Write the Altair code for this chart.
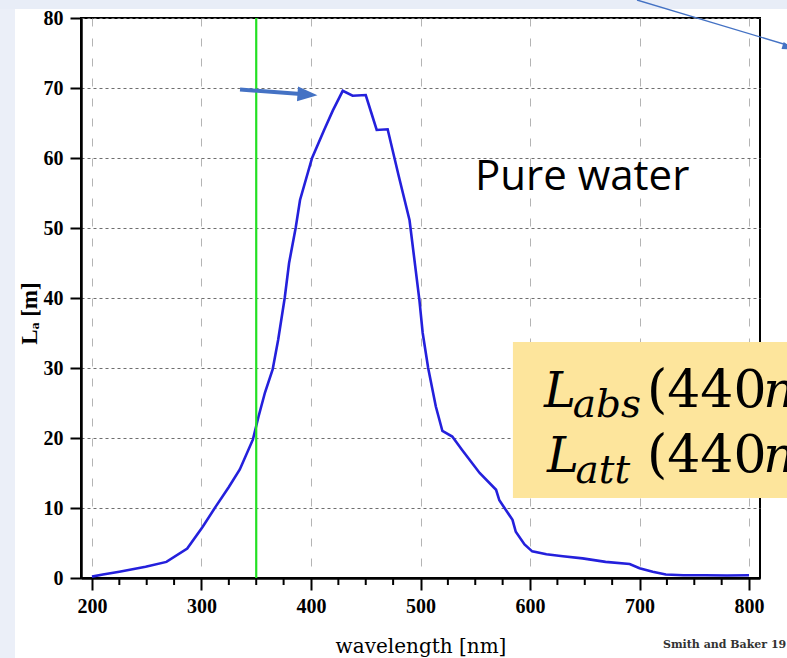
import altair as alt
import pandas as pd

# ---- data ----
wavelength = [200, 210, 225, 249, 268, 287, 301, 313, 325, 335, 347, 352, 358, 365,
              370, 376, 380, 386, 390, 401, 412, 420, 429, 438, 450, 455, 460, 470,
              480, 490, 499, 502, 507, 514, 520, 529, 538, 554, 569, 572, 584, 587,
              595, 602, 615, 630, 648, 669, 691, 700, 712, 724, 740, 760, 780, 800]
L_values = [0.2, 0.5, 0.9, 1.6, 2.3, 4.2, 7.3, 10.2, 13.0, 15.5, 19.8, 23.0, 26.5, 29.8,
            34.0, 40.0, 45.0, 50.0, 54.0, 60.0, 64.0, 66.8, 69.6, 68.9, 69.0, 66.5, 64.0, 64.1,
            57.5, 51.1, 39.7, 35.0, 30.0, 24.5, 21.0, 20.2, 18.3, 15.0, 12.6, 11.1, 8.3, 6.6,
            4.8, 3.8, 3.4, 3.1, 2.8, 2.3, 2.0, 1.4, 0.9, 0.5, 0.4, 0.4, 0.35, 0.4]

x_ticks = [200, 300, 400, 500, 600, 700, 800]
x_minor_ticks = [225, 250, 275, 325, 350, 375, 425, 450, 475, 525, 550, 575,
                 625, 650, 675, 725, 750, 775]
y_ticks = [0, 10, 20, 30, 40, 50, 60, 70, 80]
marker_wavelength = [350]

W, H = 679, 560
PAD = {"left": 81, "top": 18, "right": 27, "bottom": 80}

x_scale = alt.Scale(domain=[190, 810], nice=False, zero=False)
y_scale = alt.Scale(domain=[0, 80], nice=False, zero=False)

x_axis = alt.Axis(values=x_ticks, title="wavelength [nm]", format="d",
                  tickSize=12, tickWidth=2, tickColor="black",
                  domainColor="black", domainWidth=2.5,
                  labelFont="Liberation Serif", labelFontWeight="bold",
                  labelFontSize=20, labelColor="black", labelPadding=6,
                  grid=True, gridColor="#b4b4b4", gridDash=[8, 12], gridWidth=1,
                  titleFont="DejaVu Serif", titleFontSize=20,
                  titleFontWeight="normal", titleColor="black",
                  titlePadding=20)
y_axis = alt.Axis(values=y_ticks, title="Lₐ [m]", format="d",
                  tickSize=11, tickWidth=2, tickColor="black",
                  domainColor="black", domainWidth=2.5,
                  labelFont="Liberation Serif", labelFontWeight="bold",
                  labelFontSize=20, labelColor="black", labelPadding=7,
                  grid=True, gridColor="#6e6e6e", gridDash=[3, 3], gridWidth=1.2,
                  titleFont="Liberation Serif", titleFontSize=23,
                  titleFontWeight="bold", titleColor="black",
                  titleAngle=270, titleAlign="center", titleBaseline="alphabetic",
                  titleX=-45, titleY=295)

df = pd.DataFrame({"wavelength": wavelength, "L": L_values})


def X(field="wavelength"):
    return alt.X(f"{field}:Q", scale=x_scale, axis=x_axis)


def Y(field="L"):
    return alt.Y(f"{field}:Q", scale=y_scale, axis=y_axis)


one = pd.DataFrame({"k": [0]})

# background strips of the slide
top_strip = alt.Chart(one).mark_rect(color="#e8edf7").encode(
    x=alt.value(-PAD["left"]), x2=alt.value(W + PAD["right"]),
    y=alt.value(-PAD["top"]), y2=alt.value(-9))
left_strip = alt.Chart(one).mark_rect(color="#ebeff8").encode(
    x=alt.value(-PAD["left"]), x2=alt.value(-PAD["left"] + 15),
    y=alt.value(-9), y2=alt.value(H + PAD["bottom"]))

# main curve with axes
curve = alt.Chart(df).mark_line(color="#2420dc", strokeWidth=2.6).encode(x=X(), y=Y())

minor = alt.Chart(pd.DataFrame({"wavelength": x_minor_ticks})).mark_rule(
    color="black", strokeWidth=2).encode(
    x=X(), y=alt.value(H), y2=alt.value(H + 7))

green = alt.Chart(pd.DataFrame({"wavelength": marker_wavelength, "L": [0], "hi": [80]})).mark_rule(
    color="#22e022", strokeWidth=2.2).encode(x=X(), y=Y(), y2=alt.Y2("hi:Q"))

# arrow pointing at peak
arrow_df = pd.DataFrame({"wavelength": [335.2], "L": [69.79], "w2": [396.8], "L2": [69.06]})
arrow_line = alt.Chart(arrow_df).mark_rule(color="#4472c4", strokeWidth=4).encode(
    x=X(), y=Y(), x2="w2:Q", y2="L2:Q")
head_df = pd.DataFrame({"wavelength": [396.8], "L": [69.06]})
arrow_head = alt.Chart(head_df).mark_point(
    shape="M -1 -0.75 L 1 0 L -1 0.75 Z", filled=True, color="#4472c4",
    opacity=1, size=400, angle=4).encode(x=X(), y=Y())

# thin line top right
thin_df = pd.DataFrame({"wavelength": [697.7], "L": [82.57], "w2": [834.6], "L2": [76.14]})
thin_line = alt.Chart(thin_df).mark_rule(color="#4472c4", strokeWidth=1.4).encode(
    x=X(), y=Y(), x2="w2:Q", y2="L2:Q")
thin_head = alt.Chart(pd.DataFrame({"wavelength": [836.0], "L": [75.8]})).mark_point(
    shape="M -1 -0.6 L 1 0 L -1 0.6 Z", filled=True, color="#4472c4",
    opacity=1, size=150, angle=17).encode(x=X(), y=Y())

# yellow box
box_df = pd.DataFrame({"wavelength": [584.4], "L": [33.71], "w2": [850.0], "L2": [11.43]})
box = alt.Chart(box_df).mark_rect(color="#fde59c").encode(
    x=X(), y=Y(), x2="w2:Q", y2="L2:Q")


def text_layer(label, wl, val, size, font, style="normal", weight="normal", color="black"):
    d = pd.DataFrame({"wavelength": [wl], "L": [val], "label": [label]})
    return alt.Chart(d).mark_text(align="left", baseline="alphabetic", fontSize=size,
                                  font=font, fontStyle=style, fontWeight=weight,
                                  color=color).encode(x=X(), y=Y(), text="label:N")


texts = [
    text_layer("Pure water", 549.8, 55.43, 42, "Open Sans"),
    text_layer("L", 612.8, 24.43, 48, "DejaVu Serif", style="italic"),
    text_layer("abs", 639.0, 22.96, 39, "DejaVu Serif", style="italic"),
    text_layer("(440", 706.8, 24.43, 52, "DejaVu Serif"),
    text_layer("n", 813.0, 24.43, 50, "DejaVu Serif", style="italic"),
    text_layer("L", 615.5, 15.14, 48, "DejaVu Serif", style="italic"),
    text_layer("att", 641.5, 13.53, 39, "DejaVu Serif", style="italic"),
    text_layer("(440", 706.8, 15.14, 52, "DejaVu Serif"),
    text_layer("n", 813.0, 15.14, 50, "DejaVu Serif", style="italic"),
    text_layer("Smith and Baker 19", 721.4, -10.0, 11, "DejaVu Serif", weight="bold",
               color="#333333"),
]

chart = alt.layer(
    top_strip, left_strip, curve, minor, green, box, *texts,
    arrow_line, arrow_head, thin_line, thin_head,
).properties(
    width=W, height=H, padding=PAD,
    autosize=alt.AutoSizeParams(type="none"),
    background="white",
).configure_view(stroke="black", strokeWidth=2)

chart.save("out.html", embed_options={"renderer": "svg", "actions": False})
